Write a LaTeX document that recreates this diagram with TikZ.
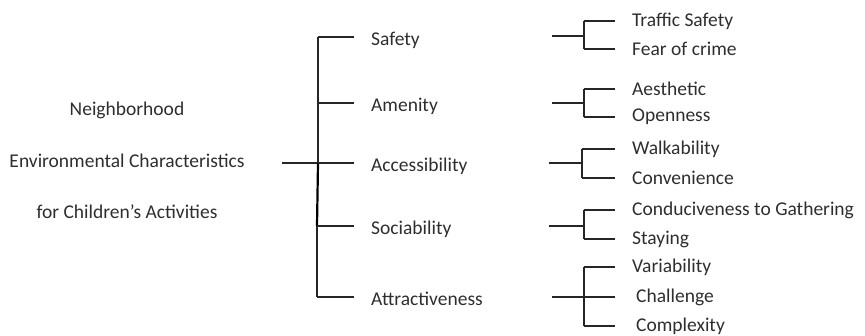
\documentclass[tikz,border=0pt]{standalone}
\usepackage{fontspec}
\setmainfont{Carlito}
\begin{document}
\begin{tikzpicture}[x=1pt,y=-1pt,
 txt/.style={anchor=west, inner xsep=17pt, inner ysep=2pt, font=\fontsize{19.5}{22}\selectfont, text=black!82},
 ln/.style={draw=black!85, line width=1.1pt}]
 \useasboundingbox (0,0) rectangle (865,336);
 \node[font=\fontsize{19.5}{22}\selectfont, text=black!82, align=center] (R) at (127,160) {Neighborhood\\[30pt]Environmental Characteristics\\[29pt]for Children's Activities};

 \node[txt] (A1) at (354,40) {Safety};
 \node[txt] (A2) at (354,106) {Amenity};
 \node[txt] (A3) at (354,166) {Accessibility};
 \node[txt] (A4) at (354,229) {Sociability};
 \node[txt] (A5) at (354,299) {Attractiveness};

 \node[txt] (B1) at (615,21) {Traffic Safety};
 \node[txt] (B2) at (615,49) {Fear of crime};
 \node[txt] (B3) at (615,89) {Aesthetic};
 \node[txt] (B4) at (615,117) {Openness};
 \node[txt] (B5) at (615,149) {Walkability};
 \node[txt] (B6) at (615,178) {Convenience};
 \node[txt] (B7) at (615,210) {Conduciveness to Gathering};
 \node[txt] (B8) at (615,239) {Staying};
 \node[txt] (B9) at (615,267) {Variability};
 \node[txt] (B10) at (619,297) {Challenge};
 \node[txt] (B11) at (619,326) {Complexity};

 \coordinate (R0) at (282,163);
 \coordinate (J1) at (318,37);
 \coordinate (J2) at (318,103);
 \coordinate (J3) at (318,163);
 \coordinate (J4) at (317,226);
 \coordinate (J5) at (317,297);

 \draw[ln] (R0) -- (J3);
 \draw[ln] (J1) -- (J3);
 \draw[ln] (J4) -- (J5);
 \draw[draw=black, line width=2.2pt] (J3) -- (J4);
 \foreach \i/\y in {1/37,2/103,3/163,4/226,5/297}
  \draw[ln] (J\i) -- (354,\y);

 \coordinate (S1) at (552,36);
 \coordinate (S2) at (552,103);
 \coordinate (S3) at (549,163);
 \coordinate (S4) at (549,226);
 \coordinate (S5) at (552,297);
 \coordinate (K1) at (584,36);
 \coordinate (K2) at (584,103);
 \coordinate (K3) at (582,163);
 \coordinate (K4) at (584,226);
 \coordinate (K5) at (584,297);

 \foreach \i in {1,...,5}
  \draw[ln] (S\i) -- (K\i);

 \draw[ln] (B1.west -| K1) -- (B2.west -| K1);
 \draw[ln] (B3.west -| K2) -- (B4.west -| K2);
 \draw[ln] (B5.west -| K3) -- (B6.west -| K3);
 \draw[ln] (B7.west -| K4) -- (B8.west -| K4);
 \draw[ln] (B9.west -| K5) -- (B11.west -| K5);
 \foreach \j/\k in {1/1,2/1,3/2,4/2,5/3,6/3,7/4,8/4,9/5,10/5,11/5}
  \draw[ln] (B\j.west -| K\k) -- (B\j.west -| 615,0);
\end{tikzpicture}
\end{document}
